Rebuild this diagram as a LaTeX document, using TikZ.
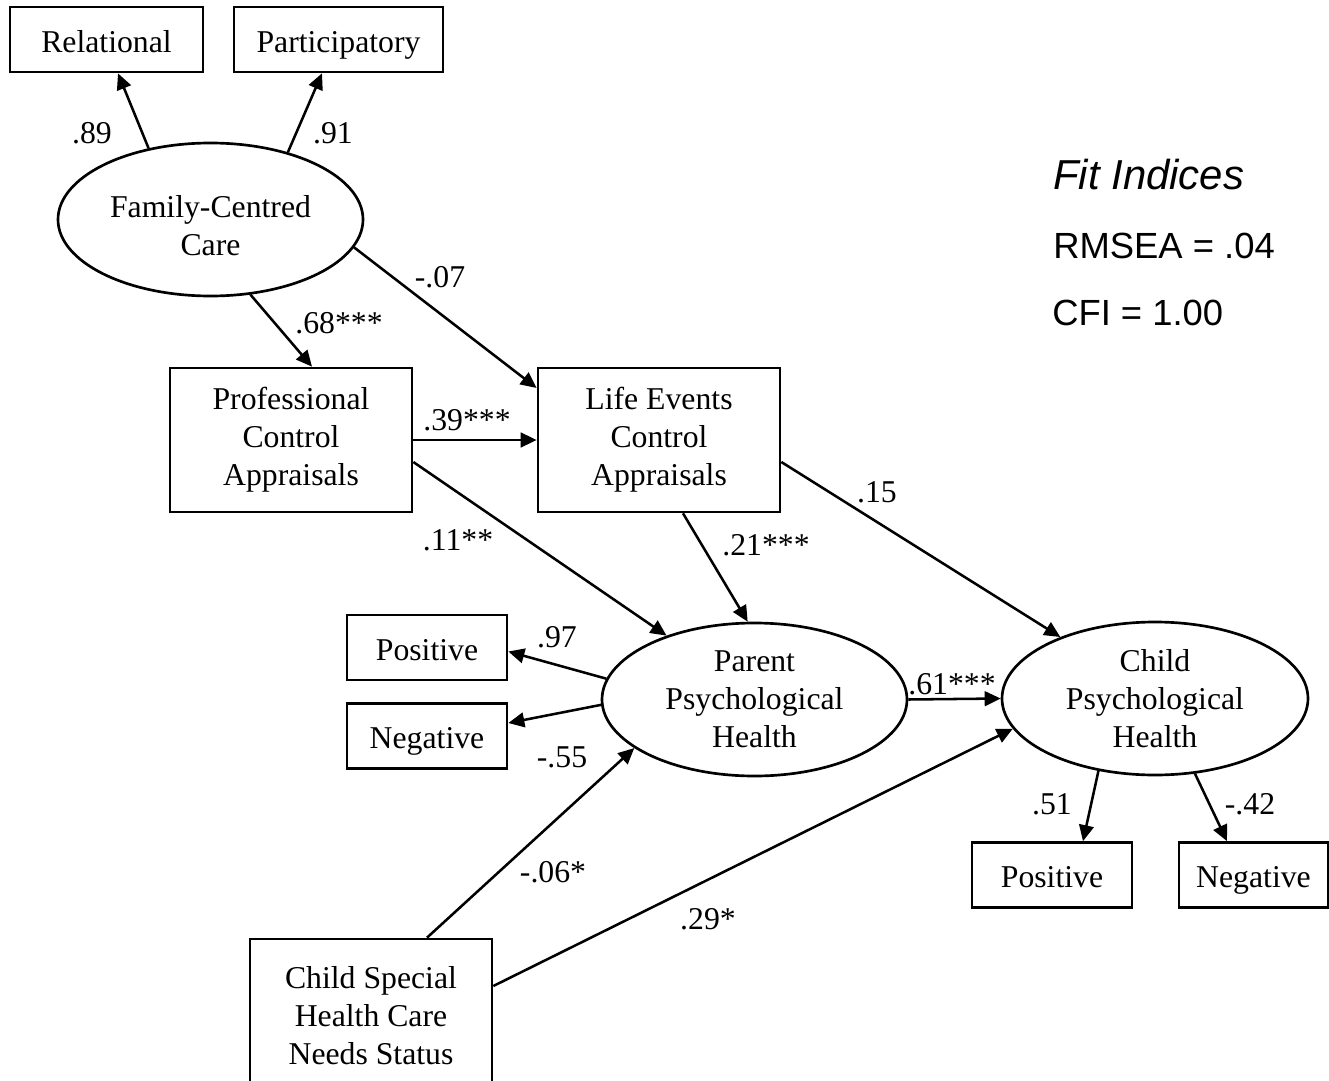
\documentclass[tikz,border=0pt]{standalone}
\usepackage{fontspec}
\setmainfont{Liberation Serif}
\newfontfamily\arialfont{Liberation Sans}
\usetikzlibrary{shapes.geometric,arrows.meta,calc}
\begin{document}
\begin{tikzpicture}[x=0.75pt,y=-0.75pt,
  every node/.style={font=\fontsize{23.8}{28.5}\selectfont},
  obs/.style={draw,line width=2pt,rectangle,inner sep=0pt,align=center,minimum height=48.75pt,text height=18.8pt,text depth=0pt},
  lat/.style={draw,line width=2pt,ellipse,inner sep=0pt,align=center,minimum width=228.75pt,minimum height=114.75pt},
  bigbox/.style={draw,line width=2pt,rectangle,inner sep=0pt,align=center,minimum width=181.5pt,minimum height=108pt},
  arr/.style={line width=1.9pt,-{Triangle[length=12pt,width=11pt]}},
  coef/.style={anchor=base,inner sep=0pt},
  fitidx/.style={anchor=base west,inner sep=0pt,font=\arialfont\fontsize{27.3}{32}\selectfont}
]
\useasboundingbox (0,0) rectangle (1329,1081);
\clip (0,0) rectangle (1329,1081);

% nodes
\node[obs,minimum width=144.75pt] (rel) at (106.5,39.5) {Relational};
\node[obs,minimum width=156.75pt] (par) at (338.5,39.5) {Participatory};
\node[lat] (fcc) at (210.5,219.5) {};
\node[align=center,inner sep=0pt] (fcctext) at (210.5,226) {Family-Centred\\Care};
\node[bigbox] (prof) at (291,440) {Professional\\Control\\Appraisals};
\node[bigbox] (life) at (659,440) {Life Events\\Control\\Appraisals};
\node[lat] (parent) at (754.5,699.5) {Parent\\Psychological\\Health};
\node[lat,minimum width=229.5pt] (child) at (1155,698.5) {Child\\Psychological\\Health};
\node[obs,minimum width=120pt] (posL) at (427,647.5) {Positive};
\node[obs,minimum width=120pt] (negL) at (427,736) {Negative};
\node[obs,minimum width=120pt] (posR) at (1052,875) {Positive};
\node[obs,minimum width=111.75pt] (negR) at (1253.5,875) {Negative};
\node[bigbox,minimum height=115.5pt] (cshc) at (371,1016) {Child Special\\Health Care\\Needs Status};

% paths
\draw[arr] (fcc.131) -- ($(rel.south)+(11.5,0)$);
\draw[arr] (fcc.41) -- ($(par.south)+(-16.5,0)$);
\draw[arr] (fcc.298) -- ($(prof.north)+(21,0)$);
\draw[arr] (fcc.349) -- ($(life.west)+(0,-52)$);
\draw[arr] (prof.east) -- (life.west);
\draw[arr] ($(prof.east)+(0,22)$) -- (parent.144);
\draw[arr] ($(life.south)+(24,0)$) -- (parent.95);
\draw[arr] ($(life.east)+(0,22)$) -- (child.147);
\draw[arr] (parent.172) -- ($(posL.east)+(0,4)$);
\draw[arr] (parent.182) -- ($(negL.east)+(0,-13)$);
\draw[arr] (parent.east) -- (child.west);
\draw[arr] (child.232) -- ($(posR.north)+(31,0)$);
\draw[arr] (child.298) -- ($(negR.north)+(-26.5,0)$);
\draw[arr] ($(cshc.north)+(56,0)$) -- (parent.202);
\draw[arr] ($(cshc.east)+(0,-30)$) -- (child.192);

% coefficients
\node[coef] (c1) at (92,143.5) {.89};
\node[coef] (c2) at (333,143.5) {.91};
\node[coef] (c3) at (440,287) {-.07};
\node[coef] (c4) at (339,333) {.68***};
\node[coef] (c5) at (467,430) {.39***};
\node[coef] (c6) at (458,550) {.11**};
\node[coef] (c7) at (766,555) {.21***};
\node[coef] (c8) at (877,502) {.15};
\node[coef] (c9) at (557,647) {.97};
\node[coef] (c10) at (562,767) {-.55};
\node[coef] (c11) at (952,694) {.61***};
\node[coef] (c12) at (1052,814) {.51};
\node[coef] (c13) at (1250,814) {-.42};
\node[coef] (c14) at (553,882) {-.06*};
\node[coef] (c15) at (708,929) {.29*};

% fit indices
\node[fitidx,font=\arialfont\itshape\fontsize{31.4}{36}\selectfont] (fit1) at (1053,190) {Fit Indices};
\node[fitidx] (fit2) at (1053,258) {RMSEA = .04};
\node[fitidx] (fit3) at (1052,325) {CFI = 1.00};
\end{tikzpicture}
\end{document}
